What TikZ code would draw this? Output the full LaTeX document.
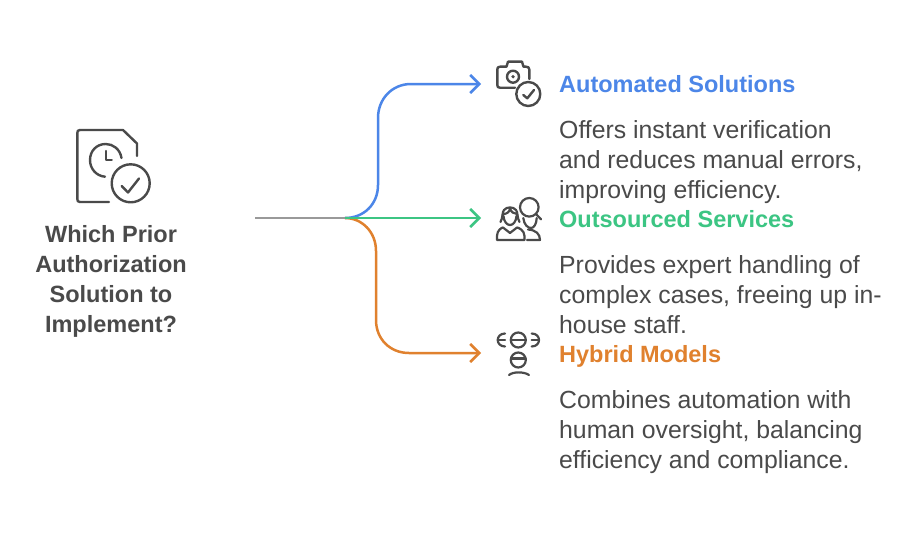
\documentclass[tikz,border=0pt]{standalone}
\usepackage{fontspec}
\setmainfont{Liberation Sans}
\usetikzlibrary{arrows.meta}
\definecolor{cblue}{HTML}{4C86E8}
\definecolor{cgreen}{HTML}{3CC583}
\definecolor{corange}{HTML}{E0812E}
\definecolor{ctext}{HTML}{4A4A4A}
\definecolor{cgrey}{HTML}{999999}
\definecolor{cicon}{HTML}{4A4A4A}
\tikzset{
  title/.style={font=\fontsize{23.5}{30}\selectfont\bfseries,text=ctext,align=center,inner sep=0pt,anchor=north},
  head/.style={font=\fontsize{23.5}{30}\selectfont\bfseries,inner sep=0pt,anchor=base west},
  body/.style={font=\fontsize{24.8}{30}\selectfont,text=ctext,align=left,inner sep=0pt,anchor=north west},
  link/.style={line width=2.5pt,-{Straight Barb[length=9pt,width=18pt,line width=2.5pt]}},
  icon/.style={draw=cicon,line width=2.4pt,line cap=round,line join=round},
  iconthin/.style={draw=cicon,line width=2.2pt,line cap=round,line join=round},
}
\begin{document}
\begin{tikzpicture}[x=1pt,y=-1pt]
\useasboundingbox[fill=white] (0,0) rectangle (918,535);
% text
\node[title] (q) at (111,225.5) {Which Prior\\Authorization\\Solution to\\Implement?};
\node[head,text=cblue] (h1) at (559,92.5) {Automated Solutions};
\node[body] (b1) at (559,120) {Offers instant verification\\and reduces manual errors,\\improving efficiency.};
\node[head,text=cgreen] (h2) at (559,227.5) {Outsourced Services};
\node[body] (b2) at (559,255) {Provides expert handling of\\complex cases, freeing up in-\\house staff.};
\node[head,text=corange] (h3) at (559,362.5) {Hybrid Models};
\node[body] (b3) at (559,390) {Combines automation with\\human oversight, balancing\\efficiency and compliance.};
% connectors
\coordinate (start) at (255,218);
\coordinate (hub) at (345,218);
\coordinate (e1) at (481,84);
\coordinate (e2) at (481,218);
\coordinate (e3) at (481,353);
\draw[cgrey,line width=2.5pt] (start) -- (hub);
\draw[link,cblue] (hub) .. controls (364,218) and (378,204) .. (378,185) -- (378,118) .. controls (378,99) and (392,84) .. (411,84) -- (e1);
\draw[link,corange] (hub) .. controls (362,218) and (376,232) .. (376,251) -- (376,320) .. controls (376,339) and (390,353) .. (409,353) -- (e3);
\draw[link,cgreen] (hub) -- (e2);
% icon: document with clock
\draw[icon] (137,156) -- (137,143.5) -- (123,130) -- (80,130) .. controls (78,130) and (77.3,131) .. (77.3,133) -- (77.3,199) .. controls (77.3,201) and (78,202) .. (80,202) -- (109,202);
\draw[icon] (121.5,158) .. controls (120,149) and (113,144) .. (105.7,144) .. controls (96.5,144) and (90,151) .. (90,160) .. controls (90,169) and (96.5,176) .. (105,176.7);
\draw[icon] (105.7,151) -- (105.7,160) -- (111.7,160);
\draw[icon] (130.7,183.3) circle[radius=19];
\draw[icon] (121.7,186) -- (128,192.5) -- (139,178.5);
% icon: camera with check
\draw[icon] (529.3,79) -- (529.3,69.5) .. controls (529.3,67.5) and (528,66.7) .. (526,66.7) -- (523.5,66.7) -- (522,61.7) -- (508,61.7) -- (506.5,66.7) -- (500,66.7) .. controls (498,66.7) and (497.3,67.5) .. (497.3,69.5) -- (497.3,85) .. controls (497.3,87) and (498,87.7) .. (500,87.7) -- (515,87.7);
\draw[icon] (513,76.7) circle[radius=6];
\fill[cicon] (513,76.7) circle[radius=1.8];
\draw[icon] (528.3,94) circle[radius=12];
\draw[icon] (523.3,95) -- (527.3,98.3) -- (534,90);
% icon: people with magnifier
\draw[iconthin] (500.5,222) .. controls (503,218) and (502,212) .. (504,210) .. controls (507,206.5) and (513,206.5) .. (516,210) .. controls (518,212) and (517,218) .. (519.5,222);
\draw[iconthin] (503,214) .. controls (507,214) and (509.5,212) .. (510,208.5) .. controls (511,212) and (514,214) .. (517,214);
\draw[iconthin] (503.5,216) .. controls (504,222) and (507,225) .. (510,225) .. controls (513,225) and (516,222) .. (516.5,216);
\draw[iconthin] (497,240) -- (524.5,240) -- (524.5,236) .. controls (524.5,230) and (518,227.5) .. (517,227.5) -- (510,233) -- (503,227.5) .. controls (502,227.5) and (497,230) .. (497,236) -- cycle;
\draw[iconthin] (529.3,207.3) circle[radius=9.3];
\draw[iconthin] (536,214) -- (541,219.3);
\draw[iconthin] (523.3,218) .. controls (524,225) and (528,228) .. (531,228) .. controls (534,228) and (536.5,224) .. (536.7,218);
\draw[iconthin] (528,229.5) .. controls (536,230) and (540,234) .. (540,240) -- (527,240);
% icon: heads
\draw[iconthin] (518.3,340) circle[radius=7.5];
\draw[iconthin] (511,340) -- (525.8,340);
\draw[iconthin] (505,333.5) .. controls (500,333.5) and (497.7,337) .. (497.7,340) .. controls (497.7,343) and (500,346.5) .. (505,346.5);
\draw[iconthin] (498.5,340) -- (505,340);
\draw[iconthin] (531.7,333.5) .. controls (536.7,333.5) and (539,337) .. (539,340) .. controls (539,343) and (536.7,346.5) .. (531.7,346.5);
\draw[iconthin] (531.7,340) -- (538.2,340);
\draw[iconthin] (518.3,360) circle[radius=7.5];
\draw[iconthin] (511,358.5) -- (525.8,358.5);
\draw[iconthin] (509,375) .. controls (513,371.5) and (524,371.5) .. (529,375);
\end{tikzpicture}
\end{document}
